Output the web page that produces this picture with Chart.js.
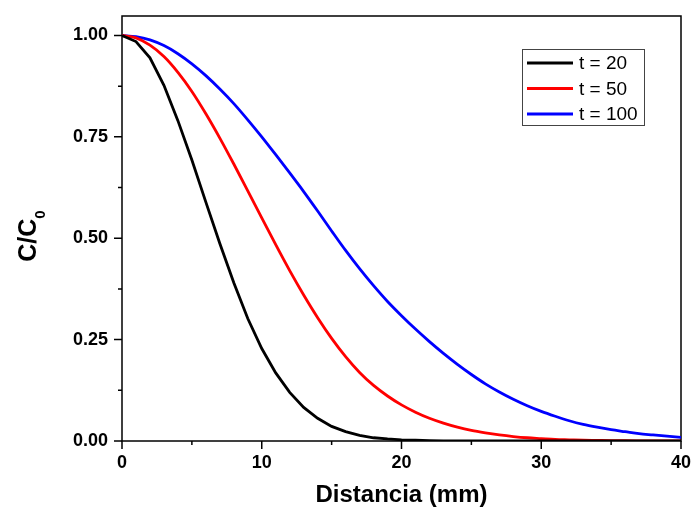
<!DOCTYPE html>
<html lang="es">
<head>
    <meta charset="UTF-8">
    <title>C/C0 vs Distancia</title>
    <script src="https://cdn.jsdelivr.net/npm/chart.js"></script>
    <style>
      html, body { margin: 0; padding: 0; background: #fff; }
      #myChart { display: block; }
    </style>
</head>
<body>
    <canvas id="myChart" width="693" height="518"></canvas>

    <script>
        // distancia (mm)
        const distance = [0, 1, 2, 3, 4, 5, 6, 7, 8, 9, 10, 11, 12, 13, 14, 15, 16, 17, 18, 19, 20,
                          21, 22, 23, 24, 25, 26, 27, 28, 29, 30, 31, 32, 33, 34, 35, 36, 37, 38, 39, 40];

        const c20 = [1.000, 0.985, 0.945, 0.877, 0.790, 0.693, 0.589, 0.487, 0.390, 0.302, 0.228,
                     0.168, 0.120, 0.083, 0.056, 0.036, 0.023, 0.014, 0.008, 0.005, 0.003,
                     0.002, 0.001, 0.0005, 0, 0, 0, 0, 0, 0, 0,
                     0, 0, 0, 0, 0, 0, 0, 0, 0, 0];
        const c50 = [1.000, 0.994, 0.976, 0.948, 0.909, 0.862, 0.807, 0.747, 0.683, 0.617, 0.550,
                     0.484, 0.420, 0.360, 0.304, 0.253, 0.208, 0.169, 0.137, 0.111, 0.089,
                     0.071, 0.056, 0.044, 0.034, 0.026, 0.020, 0.015, 0.011, 0.008, 0.006,
                     0.004, 0.003, 0.002, 0.0015, 0.001, 0.0007, 0.0005, 0.0003, 0.0002, 0.0001];
        const c100 = [1.000, 0.997, 0.989, 0.975, 0.955, 0.930, 0.901, 0.868, 0.832, 0.792, 0.750,
                      0.706, 0.661, 0.615, 0.567, 0.518, 0.470, 0.425, 0.383, 0.344, 0.309,
                      0.276, 0.245, 0.216, 0.189, 0.164, 0.141, 0.121, 0.103, 0.087, 0.073,
                      0.061, 0.050, 0.041, 0.034, 0.028, 0.023, 0.018, 0.015, 0.012, 0.009];

        const seriesLabels = ['t = 20', 't = 50', 't = 100'];
        const seriesColors = ['#000000', '#ff0000', '#0000ff'];
        const xTickValues = [0, 5, 10, 15, 20, 25, 30, 35, 40];
        const yTickValues = [0, 0.125, 0.25, 0.375, 0.5, 0.625, 0.75, 0.875, 1.0];

        const FONT = "'Liberation Sans', Arial, sans-serif";

        const toPoints = arr => distance.map((d, i) => ({x: d, y: arr[i]}));

        // marco, marcas de ejes, titulo y y leyenda
        const framePlugin = {
            id: 'framePlugin',
            beforeDatasetsDraw(chart) {
                const {ctx, chartArea: a, scales: {x, y}} = chart;
                ctx.save();
                ctx.strokeStyle = '#000';
                ctx.lineWidth = 1.5;
                ctx.strokeRect(a.left, a.top, a.right - a.left, a.bottom - a.top);
                ctx.beginPath();
                xTickValues.forEach(v => {
                    const px = x.getPixelForValue(v);
                    const len = v % 10 === 0 ? 8 : 4;
                    ctx.moveTo(px, a.bottom);
                    ctx.lineTo(px, a.bottom + len);
                });
                yTickValues.forEach(v => {
                    const py = y.getPixelForValue(v);
                    const len = (v * 4) % 1 === 0 ? 8 : 4;
                    ctx.moveTo(a.left, py);
                    ctx.lineTo(a.left - len, py);
                });
                ctx.stroke();
                ctx.restore();
            },
            afterDraw(chart) {
                const {ctx} = chart;
                ctx.save();
                ctx.translate(36, 236);
                ctx.rotate(-Math.PI / 2);
                ctx.fillStyle = '#000';
                ctx.textBaseline = 'alphabetic';
                ctx.font = 'bold 25px ' + FONT;
                const wMain = ctx.measureText('C/C').width;
                ctx.font = 'bold 15px ' + FONT;
                const wSub = ctx.measureText('0').width;
                const start = -(wMain + wSub) / 2;
                ctx.font = 'bold 25px ' + FONT;
                ctx.fillText('C/C', start, 0);
                ctx.font = 'bold 15px ' + FONT;
                ctx.fillText('0', start + wMain, 9);
                ctx.restore();

                ctx.save();
                ctx.strokeStyle = '#444';
                ctx.lineWidth = 1;
                ctx.strokeRect(522.5, 49.5, 122, 76);
                ctx.font = '19px ' + FONT;
                ctx.textBaseline = 'middle';
                chart.data.datasets.forEach((ds, i) => {
                    const ly = 63 + i * 25.5;
                    ctx.strokeStyle = ds.borderColor;
                    ctx.lineWidth = 3;
                    ctx.beginPath();
                    ctx.moveTo(527, ly);
                    ctx.lineTo(573, ly);
                    ctx.stroke();
                    ctx.fillStyle = '#000';
                    ctx.fillText(ds.label, 579, ly + 1);
                });
                ctx.restore();
            }
        };

        const config = {
            type: 'line',
            data: {
                datasets: [c20, c50, c100].map((arr, i) => ({
                    label: seriesLabels[i],
                    data: toPoints(arr),
                    borderColor: seriesColors[i],
                    borderWidth: 2.8,
                    pointRadius: 0,
                    tension: 0,
                    cubicInterpolationMode: i === 0 ? 'default' : 'monotone',
                    fill: false
                }))
            },
            options: {
                responsive: false,
                animation: false,
                layout: { padding: { top: 16, right: 12, left: 0, bottom: 0 } },
                plugins: {
                    legend: { display: false },
                    tooltip: { enabled: false }
                },
                scales: {
                    x: {
                        type: 'linear',
                        min: 0,
                        max: 40,
                        grid: { display: false, drawTicks: false },
                        border: { display: false },
                        afterBuildTicks: s => { s.ticks = xTickValues.map(v => ({value: v})); },
                        afterFit: s => { s.height = 77; s.paddingLeft = 0; s.paddingRight = 0; },
                        ticks: {
                            padding: 11,
                            maxRotation: 0,
                            autoSkip: false,
                            color: '#000',
                            font: { family: FONT, size: 18, weight: 'bold' },
                            callback: v => (v % 10 === 0 ? String(v) : '')
                        },
                        title: {
                            display: true,
                            text: 'Distancia (mm)',
                            color: '#000',
                            font: { family: FONT, size: 24, weight: 'bold' },
                            padding: { top: 0, bottom: 8 }
                        }
                    },
                    y: {
                        min: 0,
                        max: 1.048,
                        grid: { display: false, drawTicks: false },
                        border: { display: false },
                        afterBuildTicks: s => { s.ticks = yTickValues.map(v => ({value: v})); },
                        afterFit: s => { s.width = 122; s.paddingTop = 0; s.paddingBottom = 0; },
                        ticks: {
                            padding: 14,
                            autoSkip: false,
                            color: '#000',
                            font: { family: FONT, size: 18, weight: 'bold' },
                            callback: v => ((v * 4) % 1 === 0 ? v.toFixed(2) : '')
                        }
                    }
                }
            },
            plugins: [framePlugin]
        };

        new Chart(document.getElementById('myChart').getContext('2d'), config);
    </script>
</body>
</html>
